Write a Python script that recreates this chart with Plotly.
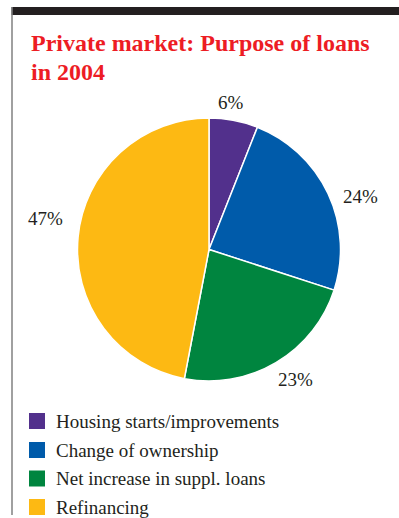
import math
import plotly.graph_objects as go

# Loan purposes (private market, 2004), share of total in percent
categories = ["Housing starts/improvements", "Change of ownership",
              "Net increase in suppl. loans", "Refinancing"]
shares = [6, 24, 23, 47]
colors = ["#52308C", "#005BAA", "#00853F", "#FDB913"]

W, H = 399, 518
SERIF = "Liberation Serif, Times New Roman, serif"
INK = "#231F20"


def px(x):
    return x / W


def py(y):
    return 1 - y / H


# Pie placement (pixels)
cx, cy, r = 209, 249.5, 131.5

fig = go.Figure(go.Pie(
    labels=categories,
    values=shares,
    sort=False,
    direction="clockwise",
    rotation=0,
    marker=dict(colors=colors, line=dict(color="white", width=1.5)),
    textinfo="none",
    showlegend=False,
    hoverinfo="label+value",
    domain=dict(x=[px(cx - r), px(cx + r)], y=[py(cy + r), py(cy - r)]),
))

shapes = [
    # heavy rule across the top
    dict(type="rect", xref="paper", yref="paper",
         x0=px(11.5), x1=1, y0=py(15), y1=py(7),
         fillcolor=INK, line=dict(width=0)),
    # thin rule down the left side
    dict(type="line", xref="paper", yref="paper",
         x0=px(12), x1=px(12), y0=py(7), y1=py(515),
         line=dict(color="#808080", width=1.5)),
]

annotations = [
    dict(text="<b>Private market: Purpose of loans</b>", x=px(29), y=py(58),
         xref="paper", yref="paper", xanchor="left", yanchor="bottom",
         showarrow=False, font=dict(family=SERIF, size=24, color="#ED1C24")),
    dict(text="<b>in 2004</b>", x=px(29), y=py(87),
         xref="paper", yref="paper", xanchor="left", yanchor="bottom",
         showarrow=False, font=dict(family=SERIF, size=24, color="#ED1C24")),
]

# Percentage labels outside each slice: placed along the slice's mid-angle,
# with a small hand nudge (pixels) so they sit clear of the rim
label_gap = 26
label_nudge = [(-7.5, 8), (9, 14), (6, -5.5), (-7, -16)]
total = sum(shares)
start = 0.0
for val, (dx, dy) in zip(shares, label_nudge):
    mid = (start + val / 2) / total * 2 * math.pi
    start += val
    lx = cx + (r + label_gap) * math.sin(mid) + dx
    ly = cy - (r + label_gap) * math.cos(mid) + dy
    annotations.append(dict(text=f"{val}%", x=px(lx), y=py(ly),
                            xref="paper", yref="paper", xanchor="center",
                            yanchor="middle", showarrow=False,
                            font=dict(family=SERIF, size=19, color=INK)))

# Hand-built legend: coloured square + label per category
row_y = [421, 450, 478.5, 507]
for name, col, yc in zip(categories, colors, row_y):
    shapes.append(dict(type="rect", xref="paper", yref="paper",
                       x0=px(29), x1=px(45), y0=py(yc + 8), y1=py(yc - 8),
                       fillcolor=col, line=dict(width=0)))
    annotations.append(dict(text=name, x=px(54), y=py(yc), xref="paper",
                            yref="paper", xanchor="left", yanchor="middle",
                            showarrow=False,
                            font=dict(family=SERIF, size=19, color=INK)))

fig.update_layout(
    width=W, height=H,
    margin=dict(l=0, r=0, t=0, b=0),
    paper_bgcolor="white", plot_bgcolor="white",
    shapes=shapes, annotations=annotations,
)

fig.write_html("out.html")
